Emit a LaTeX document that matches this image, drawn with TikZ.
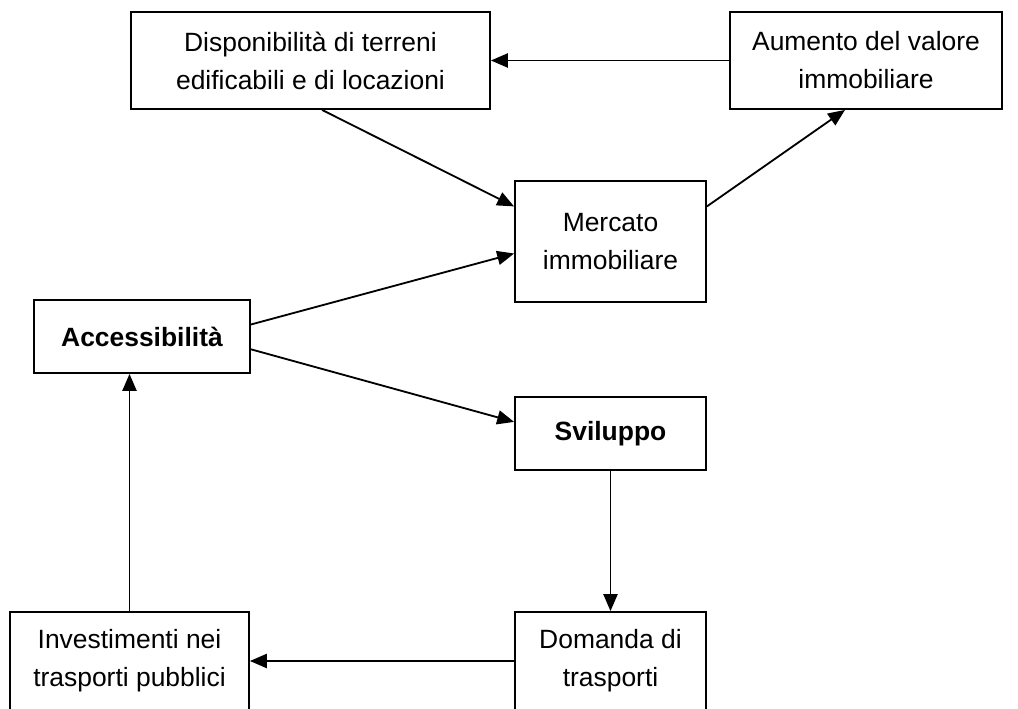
\documentclass[tikz,border=0pt]{standalone}
\usepackage{fontspec}
\setmainfont{Liberation Sans}
\usepackage{tikz}
\usetikzlibrary{arrows.meta}

\begin{document}
\begin{tikzpicture}[
    box/.style={draw, line width=1.3pt, inner sep=0pt, align=center,
                font=\fontsize{18.8}{27}\selectfont},
    link/.style={line width=1.3pt, -{Triangle[length=12pt,width=10pt]}}
  ]
  \useasboundingbox (0,0) rectangle (25.45,-17.725);

  % top row
  \node[box, minimum width=8.975cm, minimum height=2.425cm] (disp) at (7.7625,-1.5125)
    {Disponibilità di terreni\\edificabili e di locazioni};
  \node[box, minimum width=6.8cm, minimum height=2.425cm] (aum) at (21.65,-1.5125)
    {Aumento del valore\\immobiliare};

  % middle
  \node[box, minimum width=4.775cm, minimum height=3.025cm] (merc) at (15.2625,-6.0375)
    {Mercato\\immobiliare};
  \node[box, minimum width=5.4cm, minimum height=1.825cm] (acc) at (3.55,-8.4125)
    {\textbf{Accessibilità}};
  \node[box, minimum width=4.775cm, minimum height=1.825cm] (svil) at (15.2625,-10.8375)
    {\textbf{Sviluppo}};

  % bottom row
  \node[box, minimum width=4.775cm, minimum height=2.45cm] (dom) at (15.2625,-16.525)
    {Domanda di\\trasporti};
  \node[box, minimum width=5.975cm, minimum height=2.45cm] (inv) at (3.2375,-16.525)
    {Investimenti nei\\trasporti pubblici};

  % connectors
  \draw[link] (aum.west) -- (disp.east);
  \draw[link] ([xshift=0.29cm]disp.south) -- (merc.160);
  \draw[link] (merc.20) -- ([xshift=-0.525cm]aum.south);
  \draw[link] ([yshift=0.3cm]acc.east) -- ([yshift=-0.3cm]merc.west);
  \draw[link] ([yshift=-0.32cm]acc.east) -- ([yshift=0.29cm]svil.west);
  \draw[link] (svil.south) -- (dom.north);
  \draw[link] (dom.west) -- (inv.east);
  \draw[link] (inv.north) -- (inv.north |- acc.south);
\end{tikzpicture}
\end{document}
